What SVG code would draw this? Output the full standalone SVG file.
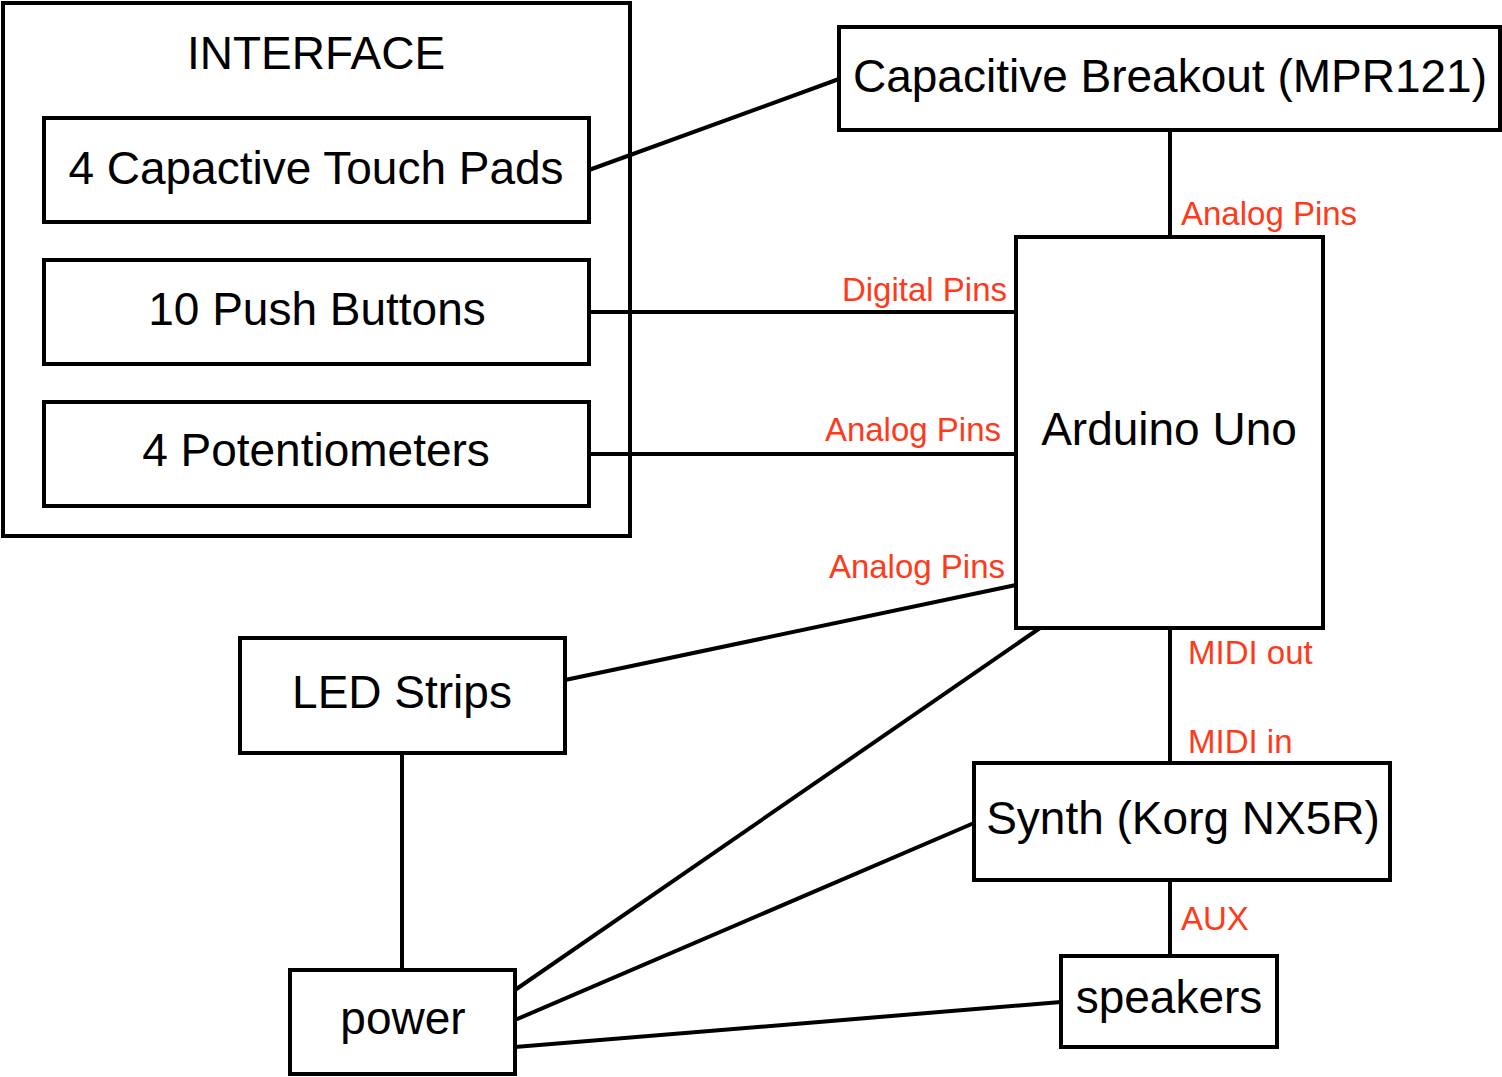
<svg xmlns="http://www.w3.org/2000/svg" width="1502" height="1077" viewBox="0 0 1502 1077">
<style>
.box{fill:#fff;stroke:#000;stroke-width:4}
.frame{fill:none;stroke:#000;stroke-width:4}
.t{font-family:"Liberation Sans",Arial,sans-serif;font-size:46px;fill:#000;text-anchor:middle}
.l{font-family:"Liberation Sans",Arial,sans-serif;font-size:33px;fill:#ff3a1a}
.c{stroke:#000;stroke-width:4;fill:none}
</style>
<rect width="1502" height="1077" fill="#fff"/>
<g id="interface">
<rect class="frame" x="3" y="3" width="627" height="533"/>
<text class="t" x="316" y="69">INTERFACE</text>
</g>
<g id="connectors">
<line class="c" x1="589" y1="170" x2="839" y2="79"/>
<line class="c" x1="1170" y1="130" x2="1170" y2="237"/>
<line class="c" x1="589" y1="312" x2="1016" y2="312"/>
<line class="c" x1="589" y1="454" x2="1019" y2="454"/>
<line class="c" x1="565" y1="680" x2="1016" y2="585"/>
<line class="c" x1="1040" y1="628" x2="515" y2="990"/>
<line class="c" x1="974" y1="823" x2="515" y2="1020"/>
<line class="c" x1="1061" y1="1002" x2="515" y2="1047"/>
<line class="c" x1="402" y1="753" x2="402" y2="970"/>
<line class="c" x1="1170" y1="628" x2="1170" y2="763"/>
<line class="c" x1="1170" y1="880" x2="1170" y2="956"/>
<text class="l" x="1181" y="225">Analog Pins</text>
<text class="l" x="1007" y="301" text-anchor="end">Digital Pins</text>
<text class="l" x="1001" y="441" text-anchor="end">Analog Pins</text>
<text class="l" x="1005" y="578" text-anchor="end">Analog Pins</text>
<text class="l" x="1188" y="664">MIDI out</text>
<text class="l" x="1188" y="753">MIDI in</text>
<text class="l" x="1181" y="930">AUX</text>
</g>
<g id="touchpads">
<rect class="box" x="44" y="118" width="545" height="104"/>
<text class="t" x="316" y="184">4 Capactive Touch Pads</text>
</g>
<g id="buttons">
<rect class="box" x="44" y="260" width="545" height="104"/>
<text class="t" x="317" y="325">10 Push Buttons</text>
</g>
<g id="pots">
<rect class="box" x="44" y="402" width="545" height="104"/>
<text class="t" x="316" y="466">4 Potentiometers</text>
</g>
<g id="mpr121">
<rect class="box" x="839" y="27" width="661" height="103"/>
<text class="t" x="1170" y="92">Capacitive Breakout (MPR121)</text>
</g>
<g id="arduino">
<rect class="box" x="1016" y="237" width="307" height="391"/>
<text class="t" x="1169" y="445">Arduino Uno</text>
</g>
<g id="led">
<rect class="box" x="240" y="638" width="325" height="115"/>
<text class="t" x="402" y="708">LED Strips</text>
</g>
<g id="power">
<rect class="box" x="290" y="970" width="225" height="104"/>
<text class="t" x="403" y="1034">power</text>
</g>
<g id="synth">
<rect class="box" x="974" y="763" width="416" height="117"/>
<text class="t" x="1183" y="834">Synth (Korg NX5R)</text>
</g>
<g id="speakers">
<rect class="box" x="1061" y="956" width="216" height="91"/>
<text class="t" x="1169" y="1013">speakers</text>
</g>
</svg>
